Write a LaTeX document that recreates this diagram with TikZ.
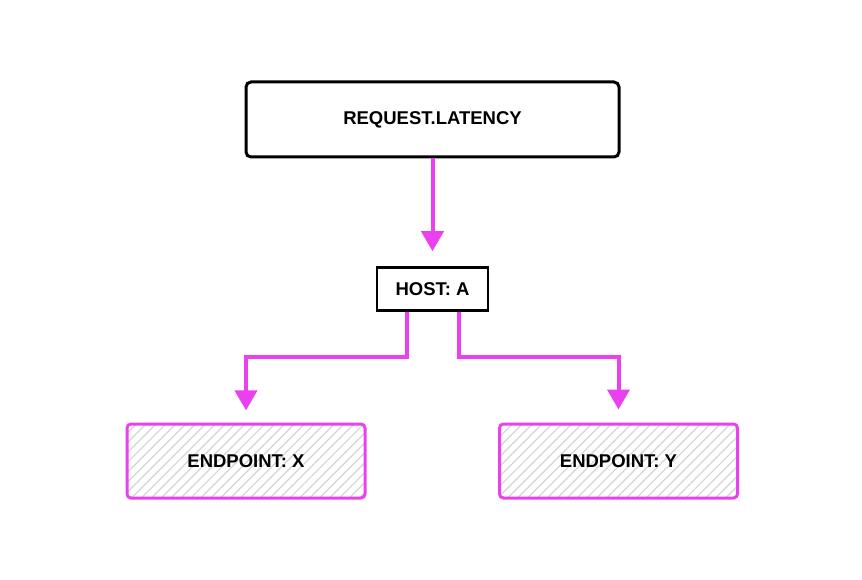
\documentclass[tikz,border=0pt]{standalone}
\usepackage{fontspec}
\setmainfont{Liberation Sans}
\usepackage{tikz}
\usetikzlibrary{arrows.meta,patterns.meta}
\definecolor{flowpink}{RGB}{234,64,240}

\begin{document}
\begin{tikzpicture}[
    x=1pt, y=-1pt,
    every node/.style={font=\bfseries\fontsize{18.5}{20}\selectfont, inner sep=0pt},
    metric/.style={draw, line width=3pt, rounded corners=5pt, minimum width=373pt, minimum height=75pt},
    host/.style={draw, line width=2.5pt, minimum width=111pt, minimum height=43pt},
    endpoint/.style={draw=flowpink, line width=3pt, rounded corners=4pt,
        minimum width=238pt, minimum height=74pt,
        pattern={Lines[angle=45, distance=7pt, line width=1.2pt]}, pattern color=black!17},
    flow/.style={draw=flowpink, line width=4pt, -{Triangle[width=22pt,length=20pt]}}
]
\useasboundingbox (0,0) rectangle (862,580);

\node[metric] (metric) at (432.5,119.5) {REQUEST.LATENCY};
\node[host] (host) at (432.5,289) {HOST: A};
\node[endpoint] (epx) at (246,461) {ENDPOINT: X};
\node[endpoint] (epy) at (618.5,461) {ENDPOINT: Y};

% connectors
\draw[flow] (metric.south) -- ([yshift=15pt]host.north);
\draw[flow] ([xshift=-26pt]host.south) -- ++(0,45) -| ([yshift=13pt]epx.north);
\draw[flow] ([xshift=26pt]host.south) -- ++(0,45) -| ([yshift=13pt]epy.north);
\end{tikzpicture}
\end{document}
